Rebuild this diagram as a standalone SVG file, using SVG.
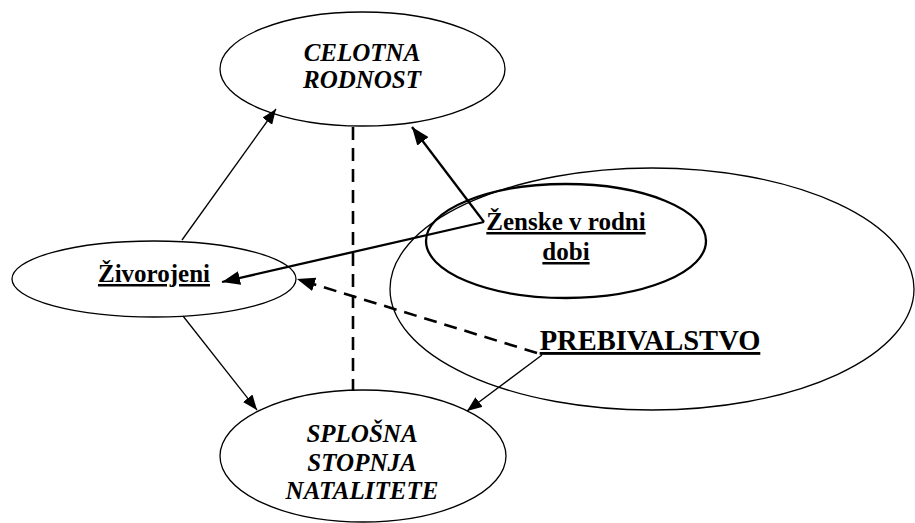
<svg xmlns="http://www.w3.org/2000/svg" width="915" height="523" viewBox="0 0 915 523">
<style>
.e{fill:none;stroke:#000;stroke-width:1.3}
.eb{fill:none;stroke:#000;stroke-width:2.3}
text{font-family:'Liberation Serif','DejaVu Serif',serif;font-weight:bold;font-size:25px;text-anchor:middle;fill:#000}
.i{font-style:italic}
.u{text-decoration:underline}
.thin{fill:none;stroke:#000;stroke-width:1.3}
.thick{fill:none;stroke:#000;stroke-width:2.3}
.dash{fill:none;stroke:#000;stroke-width:2.6;stroke-dasharray:13 8}
</style>
<defs>
<marker id="ah" markerUnits="userSpaceOnUse" markerWidth="15" markerHeight="12" refX="15" refY="6" orient="auto"><path d="M0,0 L15,6 L0,12 z" fill="#000"/></marker>
<marker id="ahL" markerUnits="userSpaceOnUse" markerWidth="18" markerHeight="14" refX="18" refY="7" orient="auto"><path d="M0,0 L18,7 L0,14 z" fill="#000"/></marker>
</defs>
<rect width="915" height="523" fill="#fff"/>
<g id="prebivalstvo">
<ellipse class="e" cx="652" cy="289" rx="262" ry="121"/>
<text class="u" x="650" y="350" style="font-size:28.5px">PREBIVALSTVO</text>
</g>
<g id="zenske">
<ellipse class="eb" cx="566" cy="241" rx="140" ry="57"/>
<text class="u" x="566" y="230">Ženske v rodni</text>
<text class="u" x="566" y="260">dobi</text>
</g>
<g id="celotna">
<ellipse class="e" cx="362.5" cy="69" rx="142.5" ry="57"/>
<text class="i" x="362" y="61">CELOTNA</text>
<text class="i" x="362" y="88">RODNOST</text>
</g>
<g id="zivorojeni">
<ellipse class="e" cx="154" cy="279" rx="142" ry="38"/>
<text class="u" x="154" y="282">Živorojeni</text>
</g>
<g id="splosna">
<ellipse class="e" cx="363" cy="456" rx="143" ry="66"/>
<text class="i" x="362" y="442">SPLOŠNA</text>
<text class="i" x="362" y="471">STOPNJA</text>
<text class="i" x="362" y="499">NATALITETE</text>
</g>
<g id="connectors">
<path class="dash" d="M353,127 L353,391"/>
<path class="thin" d="M182,240 L276,109" marker-end="url(#ah)"/>
<path class="thin" d="M183,316 L257,410" marker-end="url(#ah)"/>
<path class="thin" d="M542,355 L467,411" marker-end="url(#ah)"/>
<path class="thick" d="M484,222 L222,282" marker-end="url(#ahL)"/>
<path class="thick" d="M484,222 L412,127" marker-end="url(#ahL)"/>
<path class="dash" d="M537,353 L297,279" marker-end="url(#ahL)"/>
</g>
</svg>
